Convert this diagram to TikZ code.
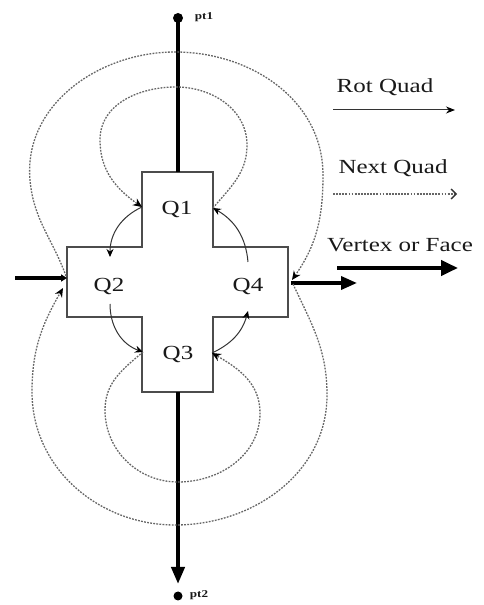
\documentclass[tikz,border=0pt]{standalone}
\usepackage{fontspec}
\setmainfont{Liberation Serif}[FakeStretch=1.25]
\usetikzlibrary{arrows.meta}
\tikzset{
  crossline/.style={draw=black!70, line width=1.3pt},
  rot/.style={draw=black!80, line width=1pt, -{Stealth[length=8pt,width=7pt,black]}},
  nxt/.style={draw=black!60, line width=1.3pt, dash pattern=on 1.8pt off 1.3pt, -{Stealth[length=9pt,width=8pt,black]}},
  nxtplain/.style={draw=black!60, line width=1.3pt, dash pattern=on 1.8pt off 1.3pt},
  heavy/.style={draw=black, line width=4pt},
  qlbl/.style={font=\fontsize{20}{24}\selectfont, text=black!90, inner sep=0pt},
  ptlbl/.style={font=\bfseries\fontsize{10.5}{12}\selectfont, text=black!90, inner sep=0pt},
}
\begin{document}
\begin{tikzpicture}[x=1pt,y=1pt]
\useasboundingbox (0,0) rectangle (483,605);

% cross outline
\draw[crossline] (142,433) -- (213,433) -- (213,358) -- (288,358) -- (288,288) -- (213,288)
  -- (213,213) -- (142,213) -- (142,288) -- (67,288) -- (67,358) -- (142,358) -- cycle;

% labels
\node[qlbl] (Q1) at (177,395) {Q1};
\node[qlbl] (Q2) at (109,318) {Q2};
\node[qlbl] (Q4) at (248,318) {Q4};
\node[qlbl] (Q3) at (178,250) {Q3};

% anchor coordinates
\coordinate (c1l) at (142,398);
\coordinate (c1r) at (213,397);
\coordinate (c2t) at (110,348);
\coordinate (c2b) at (110,301);
\coordinate (c3l) at (143,253);
\coordinate (c3r) at (212,252);
\coordinate (c4t) at (248,343);
\coordinate (c4b) at (248,294);
\coordinate (c2wa) at (66,329);
\coordinate (c2wb) at (63,317);
\coordinate (c4ea) at (292,325);
\coordinate (c4eb) at (293,321);
\coordinate (crtop) at (178,433);
\coordinate (crbot) at (178,213);
\coordinate (inL) at (15,327);
\coordinate (inR) at (67,327);
\coordinate (outL) at (291,322);
\coordinate (outR) at (357,322);

% pt1 / pt2
\fill (178,587) circle (5pt) coordinate (p1);
\node[ptlbl] (pt1) at (204,588) {pt1};
\fill (178,9) circle (4.5pt) coordinate (p2);
\node[ptlbl] (pt2) at (199,10) {pt2};
\coordinate (p2arr) at (178,21);

% thick edges
\draw[heavy] (p1) -- (crtop);
\draw[heavy, -{Triangle[length=17pt,width=13pt]}] (crbot) -- (p2arr);
\draw[draw=black, line width=3.5pt, -{Triangle[length=6pt,width=7pt]}] (inL) -- (inR);
\draw[draw=black, line width=3.5pt, -{Triangle[length=16pt,width=13pt]}] (outL) -- (outR);

% rot quad arcs
\draw[rot] (c1l) to[out=205,in=90] (c2t);
\draw[rot] (c2b) to[out=-90,in=160] (c3l);
\draw[rot] (c3r) to[out=25,in=-105] (c4b);
\draw[rot] (c4t) to[out=95,in=-30] (c1r);

% next quad curves
\draw[nxt] (c1r) to[out=50,in=-90] (247,460) to[out=90,in=0] (176,518)
  to[out=180,in=90] (100,465) to[out=-90,in=145] (c1l);
\draw[nxt] (c3l) to[out=-140,in=90] (105,195) to[out=-90,in=180] (178,123)
  to[out=0,in=-90] (260,192) to[out=90,in=-30] (c3r);
\draw[nxt] (c2wa) to[out=110,in=-85] (30,425) to[out=95,in=180] (175,553)
  to[out=0,in=90] (323,430) to[out=-90,in=55] (c4ea);
\draw[nxt] (c4eb) to[out=-65,in=90] (327,210) to[out=-90,in=0] (175,80)
  to[out=180,in=-90] (32,213) to[out=90,in=-120] (c2wb);

% legend
\node[qlbl] (lrot) at (385,518) {Rot Quad};
\coordinate (lr1) at (333,495); \coordinate (lr2) at (455,495);
\draw[draw=black!80, line width=1pt, -{Stealth[length=9pt,width=7pt,black]}] (lr1) -- (lr2);
\node[qlbl] (lnext) at (393,437) {Next Quad};
\coordinate (ln1) at (333,411); \coordinate (ln2) at (457,411);
\draw[nxtplain, -{Straight Barb[length=5pt,width=10pt,black!80]}] (ln1) -- (ln2);
\node[qlbl] (lvf) at (400,360) {Vertex or Face};
\coordinate (lv1) at (337,337); \coordinate (lv2) at (458,337);
\draw[draw=black, line width=4pt, -{Triangle[length=17pt,width=15pt]}] (lv1) -- (lv2);
\end{tikzpicture}
\end{document}
